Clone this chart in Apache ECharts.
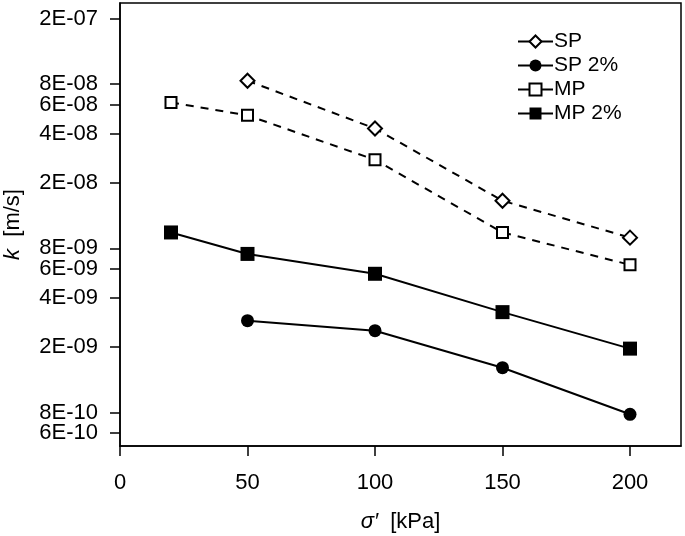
<!DOCTYPE html>
<html>
<head>
<meta charset="utf-8">
<script src="https://cdn.jsdelivr.net/npm/echarts@6/dist/echarts.min.js"></script>
<style>
html,body{margin:0;padding:0;background:#fff;}
#chart{width:685px;height:536px;}
</style>
</head>
<body>
<div id="chart"></div>
<script>
// stress values (kPa)
const xSP = [50, 100, 150, 200];
const xMP = [20, 50, 100, 150, 200];
// permeability k (m/s)
const kSP   = [8.4e-8, 4.3e-8, 1.56e-8, 9.3e-9];
const kSP2  = [2.9e-9, 2.52e-9, 1.5e-9, 7.8e-10];
const kMP   = [6.2e-8, 5.17e-8, 2.77e-8, 1.0e-8, 6.35e-9];
const kMP2  = [1.0e-8, 7.4e-9, 5.6e-9, 3.27e-9, 1.96e-9];
// axis ticks (order chosen so that the first/last pairs do not collide)
const yTicks = [2e-7, 8e-8, 6e-8, 4e-8, 2e-8, 8e-9, 6e-9, 4e-9, 6e-10, 8e-10, 2e-9];
const xTicks = [0, 50, 100, 150, 200];

const FONT = '"Liberation Sans", Arial, sans-serif';

function pair(xs, ys) { return xs.map((x, i) => [x, ys[i]]); }
function fmtE(v) {
  const s = Number(Number(v).toPrecision(1)).toExponential(0); // e.g. "2e-7"
  const m = s.split('e');
  const exp = parseInt(m[1], 10);
  const sign = exp < 0 ? '-' : '+';
  const a = Math.abs(exp);
  return m[0] + 'E' + sign + (a < 10 ? '0' + a : '' + a);
}

const chart = echarts.init(document.getElementById('chart'), null, {renderer: 'canvas'});
const dashed = {color: '#000', width: 2, type: [8, 7]};
const solid = {color: '#000', width: 2, type: 'solid'};

chart.setOption({
  animation: false,
  backgroundColor: '#fff',
  grid: {left: 120, right: 4, top: 3, bottom: 90, show: true, borderColor: '#000', borderWidth: 1.5,
         backgroundColor: 'transparent', containLabel: false, outerBoundsMode: 'none'},
  legend: {
    orient: 'vertical', left: 512, top: 26,
    itemWidth: 35, itemHeight: 15, itemGap: 3,
    lineStyle: {type: 'solid', width: 2, color: '#000'},
    textStyle: {fontFamily: FONT, fontSize: 21, color: '#000', lineHeight: 21, padding: [0, 0, 0, -4]},
    data: ['SP', 'SP 2%', 'MP', 'MP 2%']
  },
  xAxis: {
    type: 'value', min: 0, max: 220,
    name: '{i|σ′}  [kPa]', nameLocation: 'middle', nameGap: 65,
    nameTextStyle: {fontFamily: FONT, fontSize: 22, color: '#000',
      rich: {i: {fontFamily: FONT, fontSize: 22, fontStyle: 'italic', color: '#000'}}},
    axisLine: {show: true, lineStyle: {color: '#000', width: 1.5}},
    axisTick: {show: true, inside: false, length: 10, lineStyle: {color: '#000', width: 1.5}, customValues: xTicks},
    axisLabel: {fontFamily: FONT, fontSize: 22, color: '#000', margin: 26, customValues: xTicks},
    splitLine: {show: false}
  },
  yAxis: {
    type: 'log', logBase: 10, min: 5e-10, max: 2.5e-7,
    name: '{i|k}  [m/s]', nameLocation: 'middle', nameGap: 96, nameRotate: 90,
    nameTextStyle: {fontFamily: FONT, fontSize: 22, color: '#000',
      rich: {i: {fontFamily: FONT, fontSize: 22, fontStyle: 'italic', color: '#000'}}},
    axisLine: {show: true, lineStyle: {color: '#000', width: 1.5}},
    axisTick: {show: true, inside: false, length: 10, lineStyle: {color: '#000', width: 1.5}, customValues: yTicks},
    axisLabel: {fontFamily: FONT, fontSize: 22, color: '#000', margin: 22, customValues: yTicks,
                hideOverlap: false, formatter: v => fmtE(v)},
    splitLine: {show: false}
  },
  series: [
    {name: 'SP', type: 'line', data: pair(xSP, kSP), lineStyle: dashed,
     symbol: 'diamond', symbolSize: 14, itemStyle: {color: '#fff', borderColor: '#000', borderWidth: 2}, z: 3},
    {name: 'SP 2%', type: 'line', data: pair(xSP, kSP2), lineStyle: solid,
     symbol: 'circle', symbolSize: 13, itemStyle: {color: '#000', borderColor: '#000', borderWidth: 0}, z: 3},
    {name: 'MP', type: 'line', data: pair(xMP, kMP), lineStyle: dashed,
     symbol: 'rect', symbolSize: 11, itemStyle: {color: '#fff', borderColor: '#000', borderWidth: 2}, z: 3},
    {name: 'MP 2%', type: 'line', data: pair(xMP, kMP2), lineStyle: solid,
     symbol: 'rect', symbolSize: 14, itemStyle: {color: '#000', borderColor: '#000', borderWidth: 0}, z: 3}
  ]
});
</script>
</body>
</html>
